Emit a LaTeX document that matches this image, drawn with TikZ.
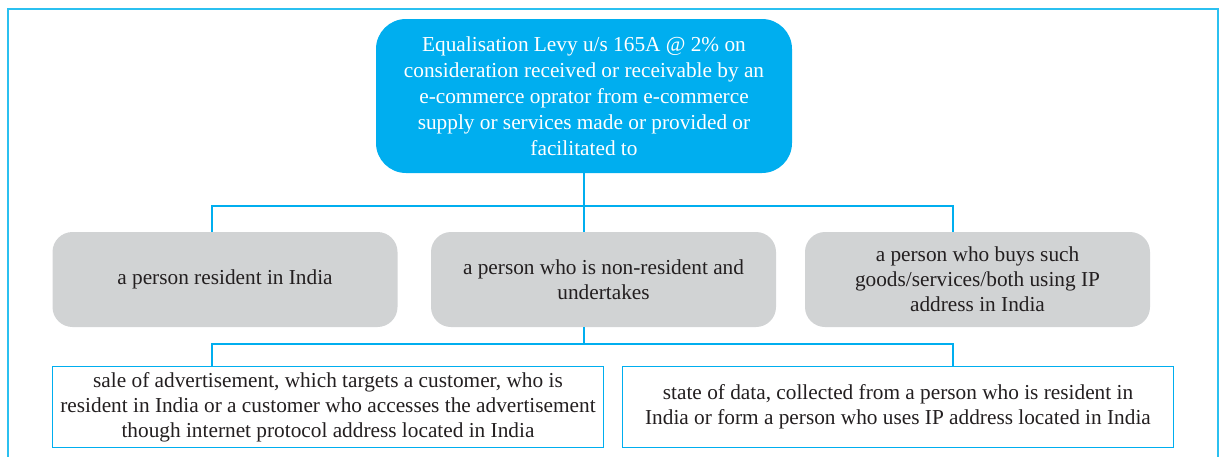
\documentclass[tikz,border=0pt]{standalone}
\usepackage{fontspec}
\setmainfont{Liberation Serif}
\definecolor{cyanb}{HTML}{00AEEF}
\definecolor{frame}{HTML}{2BC0F0}
\definecolor{greyb}{HTML}{D1D3D4}
\definecolor{ink}{HTML}{231F20}
\begin{document}
\begin{tikzpicture}[x=1pt,y=1pt,
  every node/.style={font=\fontsize{21.3}{25}\selectfont, align=center, inner sep=0pt},
  topbox/.style={fill=cyanb, rounded corners=30pt, text=white, minimum width=416pt, minimum height=154pt, font=\fontsize{21.3}{26}\selectfont},
  greybox/.style={fill=greyb, rounded corners=20pt, text=ink, minimum width=345pt, minimum height=95pt},
  leafbox/.style={draw=cyanb, line width=1.5pt, fill=white, text=ink, minimum width=551pt, minimum height=81pt},
  link/.style={draw=cyanb, line width=1.5pt}]
\useasboundingbox (0,0) rectangle (1220,-456);
\begin{scope}
\clip (0,0) rectangle (1220,-456);
\draw[frame, line width=1.8pt] (8,-9) rectangle (1218,-480);
\end{scope}

\node[topbox] (top) at (584,-96) {Equalisation Levy u/s 165A @ 2\% on\\consideration received or receivable by an\\e-commerce oprator from e-commerce\\supply or services made or provided or\\facilitated to};

\node[greybox] (g1) at (225,-279.5) {a person resident in India};
\node[greybox] (g2) at (603.5,-279.5) {a person who is non-resident and\\undertakes};
\node[greybox] (g3) at (977.5,-279.5) {a person who buys such\\goods/services/both using IP\\address in India};

\node[leafbox] (b1) at (328,-407) {\raisebox{-2pt}{\parbox{540pt}{\centering sale of advertisement, which targets a customer, who is\\resident in India or a customer who accesses the advertisement\\though internet protocol address located in India}}};
\node[leafbox] (b2) at (898,-407) {state of data, collected from a person who is resident in\\India or form a person who uses IP address located in India};

\coordinate (j1) at (584,-206);
\coordinate (l1) at (212,-206);
\coordinate (r1) at (953,-206);
\coordinate (j2) at (584,-344);
\coordinate (l2) at (212,-344);
\coordinate (r2) at (953,-344);

\draw[link] (top.south -| j1) -- (j1);
\draw[link] (l1 |- g1.north) -- (l1) -- (r1) -- (r1 |- g3.north);
\draw[link] (j1) -- (j1 |- g2.north);

\draw[link] (j2 |- g2.south) -- (j2);
\draw[link] (l2 |- b1.north) -- (l2) -- (r2) -- (r2 |- b2.north);
\end{tikzpicture}
\end{document}
